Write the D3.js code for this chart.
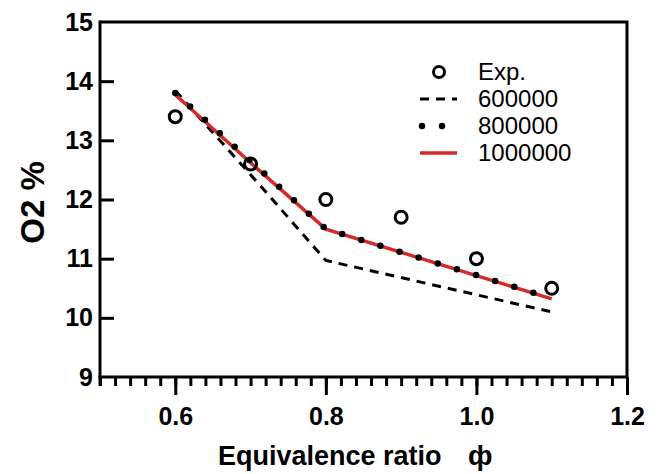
<!DOCTYPE html>
<html>
<head>
<meta charset="utf-8">
<script src="https://cdn.jsdelivr.net/npm/d3@7"></script>
<style>
  html, body { margin: 0; padding: 0; background: #fff; }
  svg { display: block; font-family: "Liberation Sans", Arial, sans-serif; }
</style>
</head>
<body>
<script>
// ---- data ----
const expPhi = [0.6, 0.7, 0.8, 0.9, 1.0, 1.1];
const expO2  = [13.4, 12.6, 12.0, 11.7, 11.0, 10.5];

const phi600k = [0.6, 0.7, 0.8, 1.1];
const o2_600k = [13.84, 12.42, 10.97, 10.1];

const phi800k = [0.6, 0.7, 0.8, 1.1];
const o2_800k = [13.8, 12.65, 11.5, 10.33];

const phi1000k = [0.6, 0.7, 0.8, 1.1];
const o2_1000k = [13.77, 12.62, 11.5, 10.32];

const xTicks = [0.6, 0.8, 1.0, 1.2];
const yTicks = [9, 10, 11, 12, 13, 14, 15];
const legendLabels = ["Exp.", "600000", "800000", "1000000"];

// ---- layout ----
const W = 658, H = 474;
const L = 100, R = 627, T = 22, B = 377;

const svg = d3.select("body").append("svg").attr("width", W).attr("height", H);

const x = d3.scaleLinear().domain([0.5, 1.2]).range([L, R]);
const y = d3.scaleLinear().domain([9, 15]).range([B, T]);

// frame (top & right)
svg.append("path")
  .attr("d", `M${L},${T}H${R}V${B}`)
  .attr("fill", "none").attr("stroke", "#000").attr("stroke-width", 3);

// x axis: minor ticks every 0.02, major ticks at 0.6/0.8/1.0/1.2
const minor = d3.range(0, 36).map(i => +(0.5 + i * 0.02).toFixed(2));
const xAxisG = svg.append("g").attr("transform", `translate(0,${B})`);
xAxisG.call(d3.axisBottom(x).tickValues(minor).tickSize(9).tickFormat(""));
xAxisG.select(".domain").remove();
xAxisG.selectAll(".tick line").attr("stroke-width", 3);
const xMajor = svg.append("g").attr("transform", `translate(0,${B})`)
  .call(d3.axisBottom(x).tickValues(xTicks).tickSize(18).tickPadding(12)
        .tickFormat(d3.format(".1f")));
xMajor.select(".domain").attr("stroke-width", 3).attr("d", `M${L - 1.5},0H${R}`);
xMajor.selectAll(".tick line").attr("stroke-width", 3);
xMajor.selectAll(".tick text")
  .attr("font-size", 25).attr("font-weight", "bold").attr("fill", "#000")
  .attr("font-family", "Liberation Sans, Arial, sans-serif");

// y axis: ticks inward
const yAxisG = svg.append("g").attr("transform", `translate(${L},0)`)
  .call(d3.axisLeft(y).tickValues(yTicks).tickSize(-14).tickPadding(7)
        .tickFormat(d3.format("d")));
yAxisG.select(".domain").attr("stroke-width", 3).attr("d", `M0,${T - 1.5}V${B + 9}`);
yAxisG.selectAll(".tick line").attr("stroke-width", 3)
  .filter(d => d === 9 || d === 15).remove();
yAxisG.selectAll(".tick text")
  .attr("font-size", 25).attr("font-weight", "bold").attr("fill", "#000")
  .attr("x", -7)
  .attr("font-family", "Liberation Sans, Arial, sans-serif");

// axis titles
const xt = svg.append("text")
  .attr("x", 218).attr("y", 465)
  .attr("font-size", 27).attr("font-weight", "bold");
xt.append("tspan").text("Equivalence ratio");
xt.append("tspan").attr("x", 468).attr("font-size", 28).text("ф");

svg.append("text")
  .attr("transform", `translate(44,${(T + B) / 2 + 3}) rotate(-90)`)
  .attr("text-anchor", "middle").attr("font-size", 33).attr("font-weight", "bold")
  .text("O2 %");

// lines
const line = d3.line().x(d => x(d[0])).y(d => y(d[1]));
const d600 = d3.zip(phi600k, o2_600k);
const d800 = d3.zip(phi800k, o2_800k);
const d1000 = d3.zip(phi1000k, o2_1000k);

const style600 = s => s.attr("fill", "none").attr("stroke", "#000").attr("stroke-width", 3)
  .attr("stroke-dasharray", "9 7");
const style1000 = s => s.attr("fill", "none").attr("stroke", "#d42a2a").attr("stroke-width", 3.5);
const style800 = s => s.attr("fill", "none").attr("stroke", "#000").attr("stroke-width", 6.5)
  .attr("stroke-linecap", "round").attr("stroke-dasharray", "0 20");

svg.append("path").datum(d600).attr("d", line).call(style600);
svg.append("path").datum(d1000).attr("d", line).call(style1000);
svg.append("path").datum(d800).attr("d", line).call(style800);

// exp markers
svg.append("g").selectAll("circle").data(d3.zip(expPhi, expO2)).join("circle")
  .attr("cx", d => x(d[0])).attr("cy", d => y(d[1])).attr("r", 6)
  .attr("fill", "none").attr("stroke", "#000").attr("stroke-width", 3);

// legend
const lg = svg.append("g");
const rowY = [72, 99, 126, 153];
const sx0 = 420, sx1 = 457, tx = 478;
lg.append("circle").attr("cx", (sx0 + sx1) / 2 + 0.5).attr("cy", rowY[0]).attr("r", 5.5)
  .attr("fill", "none").attr("stroke", "#000").attr("stroke-width", 3);
lg.append("path").attr("d", `M${sx0},${rowY[1]}H${sx1}`).call(style600);
lg.append("path").attr("d", `M${sx0 + 2},${rowY[2]}H${sx1}`).call(style800);
lg.append("path").attr("d", `M${sx0},${rowY[3]}H${sx1}`).call(style1000);
lg.selectAll("text.lbl").data(legendLabels).join("text").attr("class", "lbl")
  .attr("x", tx).attr("y", (d, i) => rowY[i]).attr("dy", "0.35em")
  .attr("font-size", 24).attr("fill", "#000").text(d => d);
</script>
</body>
</html>
